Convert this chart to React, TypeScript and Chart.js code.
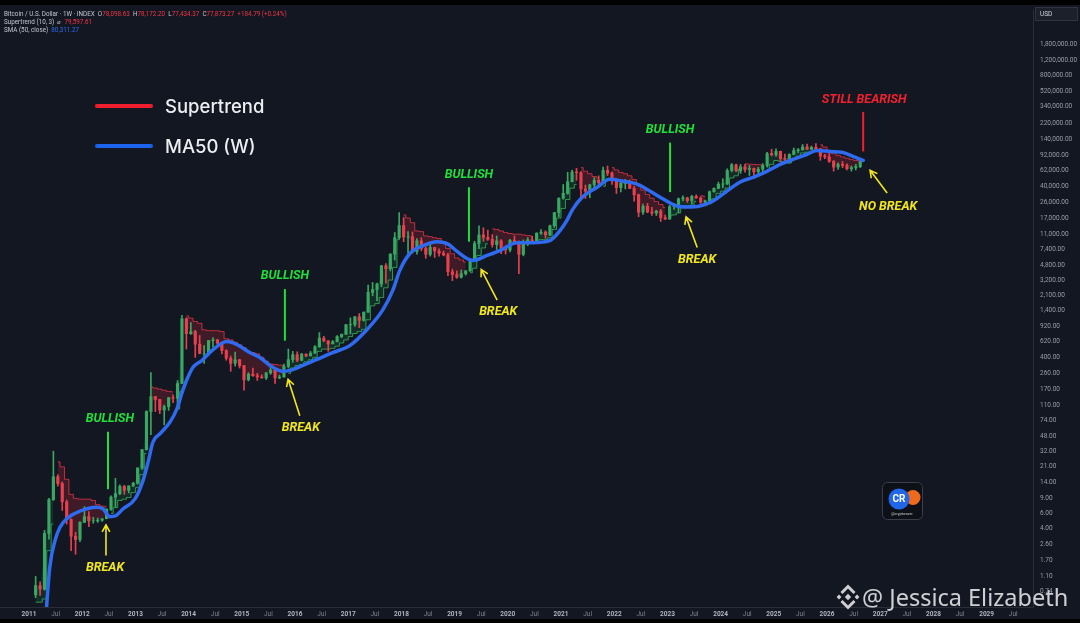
import React, { useEffect, useRef } from "react";
import { Chart, registerables } from "chart.js";

Chart.register(...registerables);

// ---------------- DATA ----------------
// Monthly candles, starting Feb 2011 (one line per year)
const FIRST_YEAR = 2011;
const FIRST_MONTH_INDEX = 1; // February
const FIRST_OPEN = 0.67;

const closes = [
  0.86, 0.78, 3.5, 8.7, 16.1, 13.4, 8.2, 5.1, 3.25, 2.97, 4.7,
  5.5, 4.9, 4.9, 5.0, 5.2, 6.7, 9.3, 10.2, 12.4, 11.2, 12.6, 13.5,
  20.4, 33.4, 93, 139, 129, 97, 106, 135, 133, 198, 1130, 757,
  800, 570, 445, 445, 630, 640, 585, 480, 390, 340, 375, 320,
  218, 254, 244, 236, 230, 263, 284, 230, 236, 314, 377, 430,
  369, 437, 416, 448, 531, 673, 624, 573, 609, 700, 742, 963,
  970, 1190, 1080, 1350, 2300, 2480, 2875, 4700, 4340, 6450, 10000, 13900,
  10200, 10300, 6900, 9200, 7500, 6400, 7700, 7000, 6600, 6300, 4000, 3700,
  3450, 3800, 4100, 5300, 8550, 10800, 10100, 9600, 8300, 9200, 7550, 7200,
  9350, 8550, 6400, 8600, 9450, 9140, 11300, 11650, 10780, 13800, 19700, 29000,
  33100, 45200, 58800, 57700, 37300, 35000, 41500, 47100, 43800, 61300, 57000, 46300,
  38500, 43200, 45500, 37700, 31800, 19900, 23300, 20000, 19400, 20500, 17200, 16500,
  23100, 23150, 28500, 29300, 27200, 30500, 29200, 26000, 27000, 34500, 37700, 42300,
  42600, 61200, 71300, 60600, 67500, 62700, 64600, 59000, 63300, 70200, 96400, 93400,
  102400, 84300, 82500, 94200, 104600, 107100, 115700, 108200, 114000, 109500, 90400, 88000,
  78000, 67000, 72000, 70000, 64000, 66000, 68000, 77873,
];

const highs = [
  1.1, 0.95, 3.8, 9.0, 32, 17, 14, 8.6, 5.2, 3.6, 4.8,
  7.2, 6.3, 5.4, 5.3, 5.2, 6.8, 9.6, 15.4, 12.9, 12.8, 12.6, 13.9,
  20.4, 33.4, 95, 266, 140, 129, 111, 136, 146, 214, 1242, 1160,
  1020, 830, 720, 550, 630, 680, 650, 600, 490, 415, 460, 380,
  320, 265, 300, 260, 250, 267, 318, 285, 248, 333, 500, 470,
  465, 445, 440, 470, 550, 780, 705, 630, 630, 720, 750, 970,
  1160, 1210, 1300, 1360, 2800, 3000, 2950, 4760, 5000, 6500, 11500, 19700,
  17200, 11800, 11700, 9800, 10000, 7770, 8500, 7750, 7400, 7000, 6600, 4300,
  4100, 4200, 4140, 5640, 9100, 13800, 13100, 12300, 10900, 10500, 9500, 7750,
  9600, 10500, 9200, 9450, 10050, 10400, 11450, 12450, 12050, 14100, 19800, 29300,
  41900, 58300, 61700, 64800, 59500, 41300, 42300, 50500, 52900, 67000, 69000, 59000,
  48000, 45800, 48200, 47400, 40000, 32400, 24700, 25200, 22700, 21000, 21500, 18400,
  23900, 25200, 29200, 31000, 29800, 31400, 31800, 30200, 27500, 35200, 38400, 44700,
  49000, 64000, 73800, 72700, 71900, 72000, 70000, 65100, 66500, 73600, 99600, 108300,
  109400, 102800, 95000, 95800, 111900, 110500, 123200, 124500, 117900, 126200, 111000, 94500,
  97000, 80000, 75000, 78000, 73000, 69000, 72000, 79000,
];

const lows = [
  0.62, 0.66, 0.76, 3.0, 8.5, 12.5, 6.5, 4.5, 2.2, 2.0, 2.8,
  4.7, 4.2, 4.6, 4.7, 4.85, 5.2, 6.5, 7.1, 9.9, 10.0, 10.4, 12.3,
  13.2, 19.6, 33, 50, 93, 88, 65, 96, 118, 107, 197, 500,
  740, 400, 440, 340, 425, 525, 565, 440, 370, 275, 315, 300,
  165, 212, 240, 215, 228, 220, 253, 198, 225, 235, 300, 350,
  355, 365, 405, 415, 445, 525, 610, 470, 590, 605, 680, 740,
  750, 920, 890, 1060, 1340, 2100, 1830, 2670, 2950, 4100, 5500, 9600,
  9000, 5900, 6600, 6450, 7050, 5750, 6100, 5880, 6100, 6150, 3600, 3150,
  3350, 3380, 3650, 4040, 5300, 7450, 9100, 9300, 7750, 7300, 6500, 6450,
  6850, 8450, 3800, 6150, 8100, 8900, 8950, 10950, 9850, 10550, 13200, 17600,
  28200, 32300, 45000, 47000, 30000, 28800, 29300, 37300, 39600, 43300, 53300, 42000,
  32900, 34300, 37200, 37600, 26700, 17600, 18800, 19600, 18200, 18200, 15500, 16300,
  16500, 21400, 19600, 26900, 25900, 24800, 28900, 25200, 24900, 26600, 34100, 37600,
  38500, 41900, 59000, 59200, 56600, 58400, 53500, 49000, 52600, 58900, 66800, 90500,
  89300, 78200, 76600, 74400, 93400, 98200, 105100, 107300, 107300, 102000, 80500, 84000,
  76000, 60000, 63000, 66000, 62000, 60000, 62000, 66000,
];

// Supertrend (10, 3): level per month and direction (1 = bullish, -1 = bearish)
const stValues = [
  0.55, 0.55, 0.6, 2.2, 4.5, 24, 21, 15, 10, 9, 8.8,
  8.8, 8.8, 8.5, 7.6, 7.3, 7.2, 6.0, 7.0, 8.5, 8.8, 9.2, 10.5,
  12, 17, 30, 180, 175, 170, 165, 160, 158, 100, 160, 1220,
  1150, 1050, 1000, 840, 820, 820, 820, 800, 660, 640, 600, 560,
  520, 470, 455, 440, 400, 360, 335, 330, 325, 322, 260, 300,
  320, 330, 355, 375, 400, 470, 500, 500, 510, 540, 590, 640,
  700, 760, 800, 850, 1100, 1600, 1700, 2000, 2600, 3200, 4500, 9500,
  18500, 17000, 15000, 12000, 11800, 10500, 10300, 10000, 9800, 9000, 7500, 6500,
  5800, 5500, 5200, 3900, 4400, 6200, 7600, 8500, 12700, 12500, 12000, 11500,
  11200, 11000, 11000, 10800, 10600, 10500, 8900, 9500, 9500, 10000, 12500, 17000,
  22000, 28000, 38000, 42000, 66000, 60000, 56000, 52000, 50000, 40000, 47000, 66000,
  62000, 58000, 56000, 53000, 48000, 42000, 36000, 32000, 29000, 26500, 24500, 22500,
  18000, 18500, 19500, 22500, 23500, 24000, 26500, 31000, 30500, 25000, 28500, 33000,
  35000, 38000, 50000, 53000, 63000, 73000, 72500, 72000, 71500, 71000, 62000, 72000,
  80000, 78000, 76000, 75000, 84000, 90000, 98000, 100000, 101000, 102000, 122000, 115000,
  104000, 97000, 92000, 88000, 85000, 82000, 80000, 79597,
];

const stDir = [
  1, 1, 1, 1, 1, -1, -1, -1, -1, -1, -1,
  -1, -1, -1, -1, -1, -1, 1, 1, 1, 1, 1, 1,
  1, 1, 1, -1, -1, -1, -1, -1, -1, 1, 1, -1,
  -1, -1, -1, -1, -1, -1, -1, -1, -1, -1, -1, -1,
  -1, -1, -1, -1, -1, -1, -1, -1, -1, -1, 1, 1,
  1, 1, 1, 1, 1, 1, 1, 1, 1, 1, 1, 1,
  1, 1, 1, 1, 1, 1, 1, 1, 1, 1, 1, 1,
  -1, -1, -1, -1, -1, -1, -1, -1, -1, -1, -1, -1,
  -1, -1, -1, 1, 1, 1, 1, 1, -1, -1, -1, -1,
  -1, -1, -1, -1, -1, -1, 1, 1, 1, 1, 1, 1,
  1, 1, 1, 1, -1, -1, -1, -1, -1, 1, 1, -1,
  -1, -1, -1, -1, -1, -1, -1, -1, -1, -1, -1, -1,
  1, 1, 1, 1, 1, 1, 1, -1, -1, 1, 1, 1,
  1, 1, 1, 1, 1, -1, -1, -1, -1, -1, 1, 1,
  1, 1, 1, 1, 1, 1, 1, 1, 1, 1, -1, -1,
  -1, -1, -1, -1, -1, -1, -1, -1,
];

// 50-week simple moving average (time in fractional years, value in USD)
const maTimes = [
  2011.32, 2011.39, 2011.49, 2011.58, 2011.71, 2011.96, 2012.27, 2012.39, 2012.52, 2012.62,
  2012.77, 2012.99, 2013.14, 2013.24, 2013.33, 2013.46, 2013.65, 2013.78, 2013.88, 2013.97,
  2014.08, 2014.25, 2014.46, 2014.72, 2014.91, 2015.15, 2015.34, 2015.53, 2015.77, 2015.91,
  2016.15, 2016.41, 2016.71, 2017.03, 2017.35, 2017.65, 2017.84, 2017.97, 2018.16, 2018.41,
  2018.67, 2018.86, 2019.05, 2019.23, 2019.35, 2019.61, 2019.85, 2020.17, 2020.47, 2020.79,
  2020.98, 2021.1, 2021.22, 2021.38, 2021.68, 2021.92, 2022.17, 2022.43, 2022.67, 2022.92,
  2023.18, 2023.37, 2023.61, 2023.86, 2024.12, 2024.36, 2024.61, 2024.87, 2025.12, 2025.36,
  2025.62, 2025.81, 2026.06, 2026.3, 2026.49, 2026.68,
];
const maValues = [
  0.4, 1.4, 2.9, 4.1, 5.2, 6.4, 7.1, 6.8, 5.5, 5.6,
  6.8, 8.8, 14.3, 24, 41, 51, 70, 100, 157, 222,
  305, 368, 493, 611, 564, 455, 399, 322, 275, 282,
  322, 378, 455, 549, 841, 1433, 2443, 4160, 6546, 8095,
  9000, 8530, 6900, 5730, 5430, 6210, 7090, 8770, 8770, 9250,
  12080, 15500, 21500, 29000, 39000, 48300, 45800, 42300, 35100, 28380,
  23500, 22900, 23500, 26900, 35100, 44600, 50900, 59700, 72000, 82300,
  94000, 104700, 101900, 99300, 89100, 80311,
];

// Axis labels
const priceTicks = [
  0.74, 1.1, 1.7, 2.6, 4, 6, 9, 14, 21, 32, 48, 74, 110, 170, 260, 400, 620, 920,
  1400, 2100, 3200, 4800, 7400, 11000, 17000, 26000, 40000, 62000, 92000, 140000,
  220000, 340000, 520000, 800000, 1200000, 1800000,
];
const yearLabels = [
  2011, 2012, 2013, 2014, 2015, 2016, 2017, 2018, 2019, 2020,
  2021, 2022, 2023, 2024, 2025, 2026, 2027, 2028, 2029,
];

// ---------------- STYLE ----------------
const PANEL = "#131722";
const UP = "#38a862";
const DOWN = "#e8404e";
const GREEN_TXT = "#1fe03a";
const YELLOW = "#f2e71c";
const RED_TXT = "#f2202e";

// Scale geometry (TradingView log price scale / time scale)
const X_MIN = 2010.455;
const X_MAX = 2029.872;
const Y_MIN = 0.74 * Math.pow(10, -16 / 86.4);
const Y_MAX = 0.74 * Math.pow(10, 586 / 86.4);

// annotation texts anchored in data space (time, price)
const notes: any[] = [
  { text: "BULLISH", color: GREEN_TXT, t: 2012.52, v: 76, line: [2012.485, 54, 11.5] },
  { text: "BREAK", color: YELLOW, t: 2012.43, v: 1.4, arrow: [2012.447, 1.93, 2012.447, 4.41] },
  { text: "BULLISH", color: GREEN_TXT, t: 2015.81, v: 3550, line: [2015.81, 2510, 627] },
  { text: "BREAK", color: YELLOW, t: 2016.11, v: 60, arrow: [2016.09, 83, 2015.87, 222] },
  { text: "BULLISH", color: GREEN_TXT, t: 2019.27, v: 53700, line: [2019.27, 39000, 9000] },
  { text: "BREAK", color: YELLOW, t: 2019.82, v: 1360, arrow: [2019.8, 1870, 2019.5, 4270] },
  { text: "BULLISH", color: GREEN_TXT, t: 2023.05, v: 183000, line: [2023.05, 129500, 34200] },
  { text: "BREAK", color: YELLOW, t: 2023.56, v: 5580, arrow: [2023.56, 7680, 2023.35, 17550] },
  { text: "STILL BEARISH", color: RED_TXT, t: 2026.7, v: 407000, line: [2026.68, 296000, 102000] },
  { text: "NO BREAK", color: YELLOW, t: 2027.15, v: 22900, arrow: [2027.13, 33300, 2026.81, 61400] },
];

function monthTime(i: number) {
  const m = FIRST_MONTH_INDEX + i;
  return FIRST_YEAR + Math.floor(m / 12) + ((m % 12) + 0.5) / 12;
}

function drawSegments(ctx: any, x: number, y: number, segs: [string, string][]) {
  let cx = x;
  for (const [txt, col] of segs) {
    ctx.fillStyle = col;
    ctx.fillText(txt, cx, y);
    cx += ctx.measureText(txt).width;
  }
}

const overlayPlugin = {
  id: "overlay",
  beforeDraw(chart: any) {
    const { ctx } = chart;
    ctx.save();
    ctx.fillStyle = "#000";
    ctx.fillRect(0, 0, chart.width, chart.height);
    ctx.fillStyle = PANEL;
    ctx.fillRect(0, 5, chart.width, 614);
    ctx.restore();
  },
  afterDraw(chart: any) {
    const { ctx } = chart;
    const xs = chart.scales.x;
    const ys = chart.scales.y;
    const px = (t: number) => xs.getPixelForValue(t);
    const py = (v: number) => ys.getPixelForValue(v);
    ctx.save();

    // header
    ctx.font = "6.3px Roboto";
    ctx.textBaseline = "middle";
    ctx.textAlign = "left";
    const W = "#c3c6ce";
    const R = "#f23645";
    drawSegments(ctx, 4, 14, [
      ["Bitcoin / U.S. Dollar · 1W · INDEX  ", W],
      ["O", W], ["78,098.63  ", R],
      ["H", W], ["78,172.20  ", R],
      ["L", W], ["77,434.37  ", R],
      ["C", W], ["77,873.27  ", R],
      ["+184.79 (+0.24%)", R],
    ]);
    drawSegments(ctx, 4, 22, [["Supertrend (10, 3)  ⌀  ", W], ["79,597.61", R]]);
    drawSegments(ctx, 4, 30, [["SMA (50, close)  ", W], ["80,311.27", "#2f6bf0"]]);

    // USD box
    ctx.fillStyle = "#1c202b";
    ctx.strokeStyle = "#2f3340";
    ctx.lineWidth = 1;
    ctx.fillRect(1035, 7, 43, 14);
    ctx.strokeRect(1035.5, 7.5, 42, 13);
    ctx.fillStyle = "#d1d4dc";
    ctx.font = "6.5px Roboto";
    ctx.fillText("USD", 1040, 14.5);

    // legend
    ctx.lineCap = "round";
    ctx.lineWidth = 4;
    ctx.strokeStyle = "#f01e2c";
    ctx.beginPath(); ctx.moveTo(97, 106); ctx.lineTo(151, 106); ctx.stroke();
    ctx.strokeStyle = "#1c63ee";
    ctx.beginPath(); ctx.moveTo(97, 146); ctx.lineTo(151, 146); ctx.stroke();
    ctx.fillStyle = "#eceef2";
    ctx.font = "500 18.5px Inter";
    ctx.fillText("Supertrend", 165, 107);
    ctx.fillText("MA50 (W)", 165, 147);

    // annotations
    ctx.lineCap = "butt";
    ctx.textAlign = "center";
    for (const n of notes) {
      ctx.font = "italic 700 12.5px Roboto";
      ctx.fillStyle = n.color;
      ctx.fillText(n.text, px(n.t), py(n.v));
      ctx.strokeStyle = n.color;
      if (n.line) {
        const [lt, v1, v2] = n.line;
        ctx.lineWidth = 2;
        ctx.beginPath();
        ctx.moveTo(px(lt), py(v1));
        ctx.lineTo(px(lt), py(v2));
        ctx.stroke();
      }
      if (n.arrow) {
        const [t1, v1, t2, v2] = n.arrow;
        const x1 = px(t1), y1 = py(v1), x2 = px(t2), y2 = py(v2);
        const ang = Math.atan2(y2 - y1, x2 - x1);
        const hl = 8;
        ctx.lineWidth = 1.6;
        ctx.beginPath();
        ctx.moveTo(x1, y1);
        ctx.lineTo(x2, y2);
        ctx.moveTo(x2 - hl * Math.cos(ang - 0.5), y2 - hl * Math.sin(ang - 0.5));
        ctx.lineTo(x2, y2);
        ctx.lineTo(x2 - hl * Math.cos(ang + 0.5), y2 - hl * Math.sin(ang + 0.5));
        ctx.stroke();
      }
    }

    // CR logo
    ctx.textAlign = "center";
    ctx.fillStyle = "#0e1018";
    ctx.strokeStyle = "#3a3e4a";
    ctx.lineWidth = 1;
    ctx.beginPath();
    (ctx as any).roundRect(882.5, 482.5, 40, 37, 5);
    ctx.fill();
    ctx.stroke();
    ctx.fillStyle = "#f06a1c";
    ctx.beginPath(); ctx.arc(913, 497.5, 7.5, 0, Math.PI * 2); ctx.fill();
    ctx.fillStyle = "#1f66e8";
    ctx.beginPath(); ctx.arc(899, 499, 10.5, 0, Math.PI * 2); ctx.fill();
    ctx.fillStyle = "#ffffff";
    ctx.font = "bold 10px Roboto";
    ctx.fillText("CR", 899, 499.5);
    ctx.font = "3.6px Roboto";
    ctx.fillStyle = "#d0d0d0";
    ctx.fillText("@cryptorover", 902, 514);

    // watermark
    ctx.globalAlpha = 0.88;
    ctx.fillStyle = "#e9e9ec";
    ctx.strokeStyle = "#e9e9ec";
    const cx = 848, cy = 597;
    const diamond = (x: number, y: number, r: number) => {
      ctx.beginPath();
      ctx.moveTo(x, y - r); ctx.lineTo(x + r, y); ctx.lineTo(x, y + r); ctx.lineTo(x - r, y);
      ctx.closePath(); ctx.fill();
    };
    diamond(cx, cy, 3.2);
    diamond(cx - 9, cy, 2.4);
    diamond(cx + 9, cy, 2.4);
    ctx.lineWidth = 3;
    ctx.lineJoin = "miter";
    ctx.beginPath(); ctx.moveTo(cx - 6.5, cy - 4); ctx.lineTo(cx, cy - 10.5); ctx.lineTo(cx + 6.5, cy - 4); ctx.stroke();
    ctx.beginPath(); ctx.moveTo(cx - 6.5, cy + 4); ctx.lineTo(cx, cy + 10.5); ctx.lineTo(cx + 6.5, cy + 4); ctx.stroke();
    ctx.textAlign = "left";
    ctx.textBaseline = "alphabetic";
    ctx.font = "23.5px 'Noto Sans'";
    ctx.fillText("@ Jessica Elizabeth", 862, 606);
    ctx.restore();
  },
};

export default function App() {
  const ref = useRef<HTMLCanvasElement>(null);

  useEffect(() => {
    document.body.style.margin = "0";
    document.body.style.background = "#000";
    const times = closes.map((_, i) => monthTime(i));
    const opens = closes.map((_, i) => (i === 0 ? FIRST_OPEN : closes[i - 1]));
    const colors = closes.map((c, i) => (c >= opens[i] ? UP : DOWN));

    const wicks = closes.map((_, i) => ({ x: times[i], y: [lows[i], highs[i]] }));
    const bodies = closes.map((c, i) => ({
      x: times[i],
      y: [Math.min(opens[i], c), Math.max(opens[i], c)],
    }));
    const mids = closes.map((c, i) => ({ x: times[i], y: (opens[i] + c) / 2 }));
    const stBear = stValues.map((v, i) => ({ x: times[i], y: stDir[i] < 0 ? v : null }));
    const stBull = stValues.map((v, i) => ({ x: times[i], y: stDir[i] > 0 ? v : null }));
    const ma = maTimes.map((t, i) => ({ x: t, y: maValues[i] }));

    const ticksX: number[] = [];
    yearLabels.forEach((y) => { ticksX.push(y); ticksX.push(y + 0.5); });

    const chart = new Chart(ref.current as HTMLCanvasElement, {
      type: "bar",
      data: {
        datasets: [
          {
            type: "bar", data: wicks as any, backgroundColor: colors, barThickness: 1,
            grouped: false, order: 2, borderWidth: 0,
          } as any,
          {
            type: "bar", data: bodies as any, backgroundColor: colors, barThickness: 2.5,
            grouped: false, order: 1, borderWidth: 0,
          } as any,
          {
            type: "line", data: mids as any, borderColor: "rgba(0,0,0,0)", borderWidth: 0,
            pointRadius: 0, order: 6, fill: false,
          } as any,
          {
            type: "line", data: stBear as any, borderColor: "#c0303f", borderWidth: 1,
            pointRadius: 0, stepped: "middle", spanGaps: false, order: 4,
            fill: 2, backgroundColor: "rgba(200,40,60,0.24)",
          } as any,
          {
            type: "line", data: stBull as any, borderColor: "#2f9a52", borderWidth: 1,
            pointRadius: 0, stepped: "middle", spanGaps: false, order: 4,
            fill: 2, backgroundColor: "rgba(40,160,80,0.16)",
          } as any,
          {
            type: "line", data: ma as any, borderColor: "#2f6bf0", borderWidth: 3.5,
            pointRadius: 0, tension: 0.4, cubicInterpolationMode: "monotone", order: 0,
            fill: false, borderCapStyle: "round",
          } as any,
        ],
      },
      options: {
        responsive: false,
        animation: false,
        events: [],
        layout: { padding: { top: 5, bottom: 4, left: 0, right: 0 } },
        plugins: {
          legend: { display: false },
          tooltip: { enabled: false },
          title: { display: false },
        },
        scales: {
          x: {
            type: "linear",
            min: X_MIN,
            max: X_MAX,
            offset: false,
            grid: { display: false, drawTicks: false },
            border: { display: true, color: "#2a2e39" },
            afterBuildTicks: (s: any) => { s.ticks = ticksX.map((v) => ({ value: v })); },
            afterFit: (s: any) => { s.height = 12; },
            ticks: {
              autoSkip: false,
              maxRotation: 0,
              padding: 3,
              callback: (v: any) => (Number.isInteger(v) ? String(v) : "Jul"),
              color: (c: any) => (Number.isInteger(c.tick?.value) ? "#b2b5be" : "#7f838e"),
              font: (c: any) => ({
                family: "Roboto",
                size: 6.5,
                weight: Number.isInteger(c.tick?.value) ? "bold" : "normal",
              }),
            },
          } as any,
          y: {
            type: "logarithmic",
            position: "right",
            min: Y_MIN,
            max: Y_MAX,
            grid: { display: false, drawTicks: false },
            border: { display: true, color: "#2a2e39" },
            afterBuildTicks: (s: any) => { s.ticks = priceTicks.map((v) => ({ value: v })); },
            afterFit: (s: any) => { s.width = 47; },
            ticks: {
              autoSkip: false,
              padding: 7,
              color: "#9a9ea8",
              font: { family: "Roboto", size: 6.5 },
              callback: (v: any) =>
                Number(v).toLocaleString("en-US", { minimumFractionDigits: 2, maximumFractionDigits: 2 }),
            },
          } as any,
        },
      },
      plugins: [overlayPlugin],
    } as any);

    return () => chart.destroy();
  }, []);

  return (
    <div style={{ width: 1080, height: 623, background: "#000", position: "relative" }}>
      <canvas ref={ref} width={1080} height={623} style={{ display: "block", width: 1080, height: 623 }} />
    </div>
  );
}
